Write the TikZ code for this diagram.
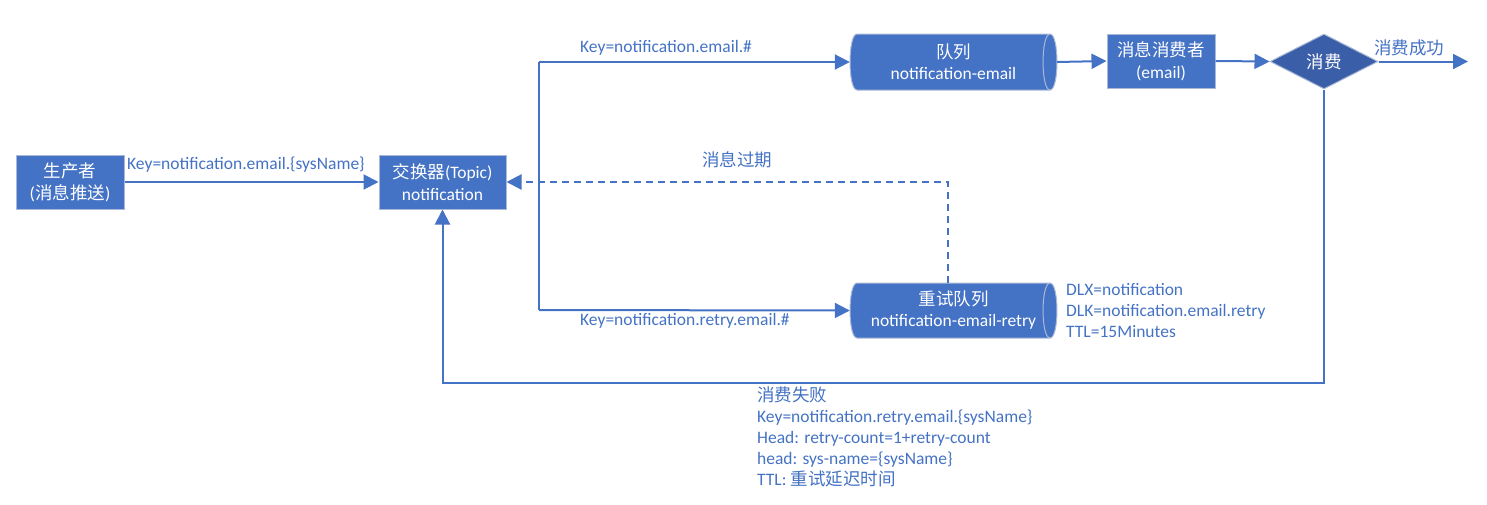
\documentclass[tikz,border=0pt]{standalone}
\usepackage{fontspec}
\setmainfont{Carlito}
\newfontfamily\cjk{Noto Sans CJK SC}
\usetikzlibrary{arrows.meta,shapes.geometric}
\definecolor{cblue}{HTML}{4472C4}
\definecolor{cdark}{HTML}{3B5EA8}
\definecolor{cborder}{RGB}{170,185,215}
\tikzset{
  box/.style={rectangle,fill=cblue,draw=cborder,line width=1pt,text=white,align=center,inner sep=0pt,font=\fontsize{17.5}{22}\selectfont},
  anchorbox/.style={rectangle,inner sep=0pt,text=white,align=center,font=\fontsize{17.5}{21}\selectfont},
  cyl/.style={fill=cblue,draw=cborder,line width=1pt},
  cylline/.style={draw=cborder,line width=1pt},
  conn/.style={draw=cblue,line width=2pt},
  arr/.style={conn,-{Triangle[length=15pt,width=15pt]}},
  lbl/.style={text=cblue,inner sep=0pt,font=\fontsize{17.5}{21}\selectfont,align=left},
  dsh/.style={dash pattern=on 7pt off 5pt}
}
\begin{document}
\begin{tikzpicture}[x=1pt,y=-1pt]
\useasboundingbox (0,0) rectangle (1487,504);
% boxes
\node[box,minimum width=108pt,minimum height=54pt] (prod) at (70,182) {{\cjk 生产者}\\({\cjk 消息推送})};
\node[box,minimum width=127pt,minimum height=54pt] (exch) at (442.5,182) {{\cjk 交换器}(Topic)\\notification};
\node[box,minimum width=108pt,minimum height=54pt] (cons) at (1161,61) {{\cjk 消息消费者}\\(email)};
\node[diamond,fill=cdark,draw=cborder,line width=1pt,text=white,inner sep=0pt,aspect=2,minimum width=108pt,minimum height=55pt,font=\fontsize{17.5}{22}\selectfont] (dia) at (1324,61.5) {\cjk 消费};
% queue cylinder
\path[cyl] (857,34) -- (1050,34) .. controls (1059.3,34) and (1059.3,90) .. (1050,90) -- (857,90) .. controls (847.7,90) and (847.7,34) .. (857,34) -- cycle;
\draw[cylline] (1050,34) .. controls (1040.7,34) and (1040.7,90) .. (1050,90);
\node[anchorbox,minimum width=207pt,minimum height=56pt] (qe) at (953.5,62) {{\cjk 队列}\\notification-email};
% retry cylinder
\path[cyl] (857,283) -- (1050,283) .. controls (1059.3,283) and (1059.3,338) .. (1050,338) -- (857,338) .. controls (847.7,338) and (847.7,283) .. (857,283) -- cycle;
\draw[cylline] (1050,283) .. controls (1040.7,283) and (1040.7,338) .. (1050,338);
\node[anchorbox,minimum width=207pt,minimum height=55pt] (rq) at (953.5,310.5) {{\cjk 重试队列}\\notification-email-retry};
% coordinates
\coordinate (jt) at (539,62);
\coordinate (jb) at (539,310);
\coordinate (ok) at (1468,61.5);
\coordinate (fail) at (1324,383);
% connectors
\draw[arr] (prod.east) -- (exch.west);
\draw[conn] (jt) -- (jb);
\draw[arr] (jt) -- (qe.west);
\draw[arr] (jb) -- (rq.west);
\draw[arr,dsh,line width=2.2pt] ([xshift=-5.5pt]rq.north) |- (exch.east);
\draw[arr] (qe.east) -- (cons.west);
\draw[arr] (cons.east) -- (dia.west);
\draw[arr] (dia.east) -- (ok);
\draw[arr] (dia.south) -- (fail) -| (exch.south);
% labels
\node[lbl,anchor=west] (l1) at (127,165) {Key=notification.email.\{sysName\}};
\node[lbl,anchor=west] (l2) at (580,48) {Key=notification.email.\#};
\node[lbl,anchor=west] (l3) at (580,321) {Key=notification.retry.email.\#};
\node[lbl] (l4) at (737,160) {\cjk 消息过期};
\node[lbl] (l5) at (1409,48) {\cjk 消费成功};
\node[lbl,anchor=north west] (l6) at (1066,283) {DLX=notification\\DLK=notification.email.retry\\TTL=15Minutes};
\node[lbl,anchor=north west] (l7) at (757,387) {{\cjk 消费失败}\\Key=notification.retry.email.\{sysName\}\\Head: retry-count=1+retry-count\\head: sys-name=\{sysName\}\\TTL: {\cjk 重试延迟时间}};
\end{tikzpicture}
\end{document}
